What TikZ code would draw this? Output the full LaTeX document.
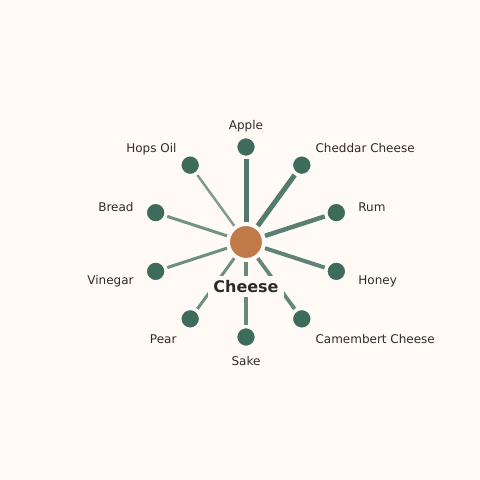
\documentclass[tikz,border=0pt]{standalone}
\usepackage{fontspec}
\setmainfont{DejaVu Sans}
\usepackage{tikz}
\definecolor{bg}{HTML}{FFFAF6}
\definecolor{leafc}{HTML}{3D6B5C}
\definecolor{hubc}{HTML}{C07A4A}
\definecolor{ink}{HTML}{2B2B2B}

\begin{document}
\begin{tikzpicture}[x=1pt,y=1pt]
	\fill[bg] (0,0) rectangle (480,480);
	\useasboundingbox (0,0) rectangle (480,480);
	\begin{scope}[shift={(246,238)},
		leaf/.style={circle,fill=leafc,draw=bg,line width=1.5pt,minimum size=19pt,inner sep=0pt},
		lab/.style={text=ink,font=\fontsize{12}{14}\selectfont,inner sep=0pt,text height=9.1pt,text depth=2.8pt,yshift=-2.5pt},
		spoke/.style={draw=leafc,shorten <=2pt,shorten >=2pt}]
		\node[circle,fill=hubc,draw=bg,line width=2pt,minimum size=34pt,inner sep=0pt](0)at(0,0) {};
		\node[leaf](1)at(90:95) {};
		\node[leaf](2)at(54:95) {};
		\node[leaf](3)at(18:95) {};
		\node[leaf](4)at(-18:95) {};
		\node[leaf](5)at(-54:95) {};
		\node[leaf](6)at(-90:95) {};
		\node[leaf](7)at(234:95) {};
		\node[leaf](8)at(198:95) {};
		\node[leaf](9)at(162:95) {};
		\node[leaf](10)at(126:95) {};
		
		\draw[spoke,line width=5pt,opacity=.9](1) -- (0);
		\draw[spoke,line width=5pt,opacity=.88](2) -- (0);
		\draw[spoke,line width=4.5pt,opacity=.85](3) -- (0);
		\draw[spoke,line width=4pt,opacity=.82](4) -- (0);
		\draw[spoke,line width=3.75pt,opacity=.8](5) -- (0);
		\draw[spoke,line width=3.5pt,opacity=.78](6) -- (0);
		\draw[spoke,line width=3pt,opacity=.75](7) -- (0);
		\draw[spoke,line width=3pt,opacity=.75](8) -- (0);
		\draw[spoke,line width=3pt,opacity=.72](9) -- (0);
		\draw[spoke,line width=2.5pt,opacity=.65](10) -- (0);
		
		\node[fill=bg,inner xsep=5pt,inner ysep=4.5pt,text=ink,font=\bfseries\fontsize{16}{18}\selectfont](c)at(0,-44.5) {Cheese};
		
		\node[lab](l1)at(90:118) {Apple};
		\node[lab,anchor=west](l2)at(54:118) {Cheddar Cheese};
		\node[lab,anchor=west](l3)at(18:118) {Rum};
		\node[lab,anchor=west](l4)at(-18:118) {Honey};
		\node[lab,anchor=west](l5)at(-54:118) {Camembert Cheese};
		\node[lab](l6)at(-90:118) {Sake};
		\node[lab,anchor=east](l7)at(234:118) {Pear};
		\node[lab,anchor=east](l8)at(198:118) {Vinegar};
		\node[lab,anchor=east](l9)at(162:118) {Bread};
		\node[lab,anchor=east](l10)at(126:118) {Hops Oil};
	\end{scope}
\end{tikzpicture}
\end{document}
